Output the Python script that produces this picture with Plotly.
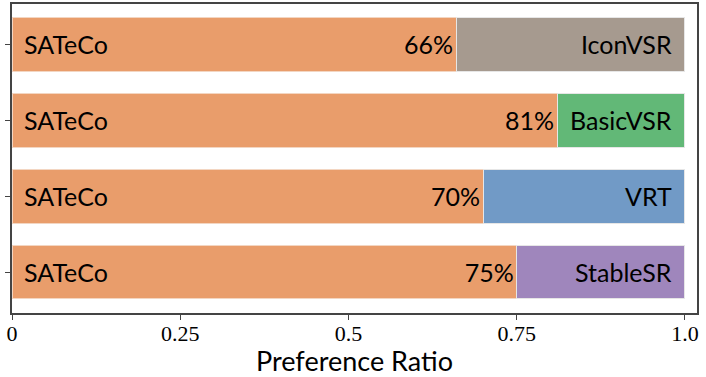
import plotly.graph_objects as go

# data, top row first
methods = ["IconVSR", "BasicVSR", "VRT", "StableSR"]
sateco_share = [0.66, 0.81, 0.70, 0.75]
other_colors = ["#A69A8F", "#62B877", "#719AC6", "#9F86BC"]
sateco_color = "#E99D6B"
x_ticks = [0, 0.25, 0.5, 0.75, 1.0]
x_tick_text = ["0", "0.25", "0.5", "0.75", "1.0"]

rows = list(range(len(methods)))[::-1]  # top row gets the highest y
other_share = [1 - s for s in sateco_share]
font = "Lato, 'Open Sans', sans-serif"
label_size = 25

fig = go.Figure()

fig.add_trace(go.Bar(
    x=sateco_share,
    y=rows,
    orientation="h",
    marker=dict(color=sateco_color, line=dict(color="#F3D6C2", width=1)),
    text=[f"{round(s * 100)}%" for s in sateco_share],
    textposition="inside",
    insidetextanchor="end",
    textfont=dict(size=label_size, color="black", family=font),
    width=0.71,
    showlegend=False,
))

fig.add_trace(go.Bar(
    x=other_share,
    y=rows,
    orientation="h",
    marker=dict(color=other_colors, line=dict(color="#E6E6E6", width=1)),
    width=0.71,
    showlegend=False,
))

for r, m in zip(rows, methods):
    fig.add_annotation(
        x=0, y=r, xref="x", yref="y",
        text="SATeCo", showarrow=False,
        xanchor="left", xshift=10,
        font=dict(size=label_size, color="black", family=font),
    )
    fig.add_annotation(
        x=1, y=r, xref="x", yref="y",
        text=m, showarrow=False,
        xanchor="right", xshift=-11,
        font=dict(size=label_size, color="black", family=font),
    )

fig.update_layout(
    barmode="stack",
    width=706, height=377,
    margin=dict(l=12, r=9, t=4, b=64),
    plot_bgcolor="white",
    paper_bgcolor="white",
    uniformtext=dict(minsize=10, mode="show"),
    xaxis=dict(
        range=[0, 1.018],
        tickvals=x_ticks,
        ticktext=x_tick_text,
        ticks="outside", ticklen=5, tickcolor="#444",
        ticklabelstandoff=-5,
        tickfont=dict(size=22, color="black", family="'Liberation Serif', serif"),
        showline=True, linecolor="#444", linewidth=1.5, mirror=True,
        showgrid=False, zeroline=False, automargin=False,
        title=dict(text="Preference Ratio", font=dict(size=27, color="black", family=font), standoff=6),
    ),
    yaxis=dict(
        range=[-0.54, 3.53],
        tickvals=rows,
        showticklabels=False,
        ticks="outside", ticklen=5, tickcolor="#444",
        showline=True, linecolor="#444", linewidth=1.5, mirror=True,
        showgrid=False, zeroline=False, automargin=False,
    ),
)

# the page body has a default 8px margin; drop it so the figure fills the window
fig.write_html(
    "out.html",
    config={"displayModeBar": False},
    post_script="document.body.style.margin = '0';",
)
